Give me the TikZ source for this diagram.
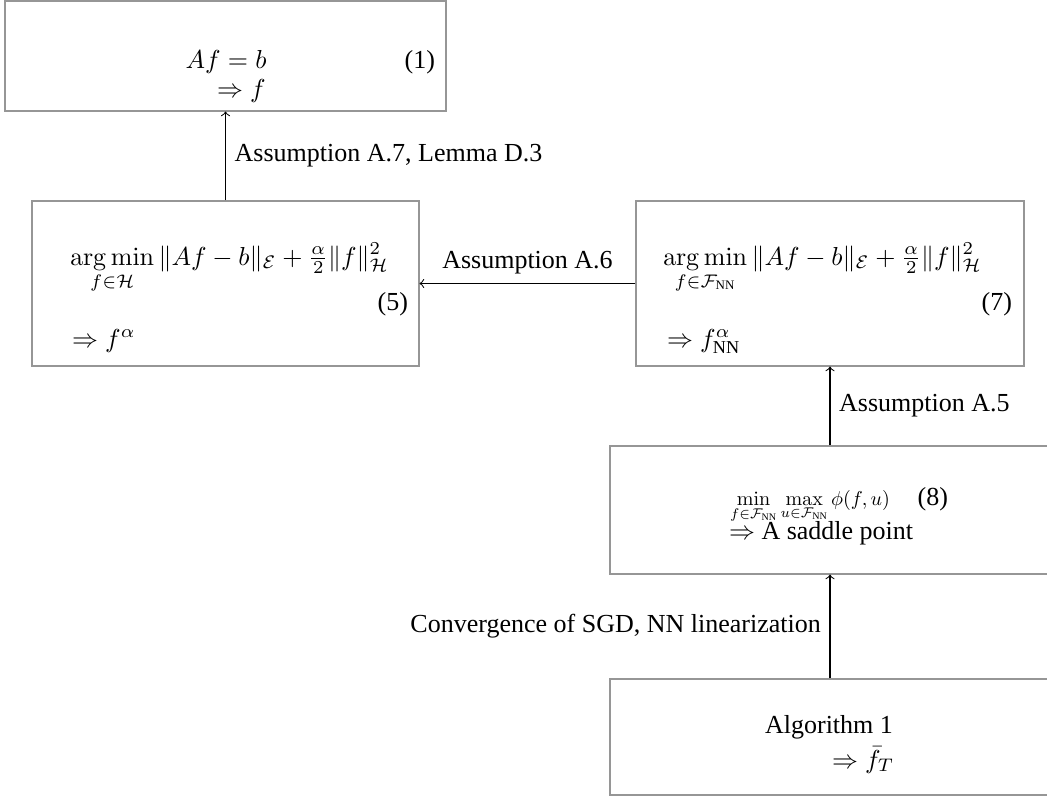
\documentclass[tikz,border=0pt]{standalone}
\usepackage{amsmath}
\usepackage{graphicx}
\usepackage[no-math]{fontspec}
\setmainfont{Liberation Serif}
\newdimen\px
\px=0.3846pt
\tikzset{
  box/.style={draw={rgb,255:red,150;green,150;blue,150}, rectangle, inner sep=0pt, line width=0.4pt},
  txt/.style={inner sep=0pt, outer sep=0pt},
  conn/.style={->, black, line width=0.4pt},
}
\begin{document}
\begin{tikzpicture}[x=0.3846pt, y=-0.3846pt]
\useasboundingbox (0,0) rectangle (1047,797);
% boxes
\node[box, minimum width=441*\px, minimum height=110*\px] (b1) at (225.5,56) {};
\node[box, minimum width=387*\px, minimum height=165*\px] (b5) at (225.5,283.5) {};
\node[box, minimum width=388*\px, minimum height=165*\px] (b7) at (830,283.5) {};
\node[box, minimum width=440*\px, minimum height=128*\px] (b8) at (830,510) {};
\node[box, minimum width=440*\px, minimum height=116*\px] (ba) at (830,737) {};
% box 1 texts
\node[txt, anchor=base] (t1a) at (226,68) {$Af = b$};
\node[txt, anchor=base east] (t1n) at (435,68) {(1)};
\node[txt, anchor=base west] (t1b) at (217,97) {$\Rightarrow f$};
% box 5 texts
\node[txt, anchor=base west] (t5a) at (70,265) {$\displaystyle\operatorname*{arg\,min}_{f\in\mathcal{H}}\|Af-b\|_{\mathcal{E}}+\tfrac{\alpha}{2}\|f\|^2_{\mathcal{H}}$};
\node[txt, anchor=base east] (t5n) at (408,310) {(5)};
\node[txt, anchor=base west] (t5b) at (72,347) {$\Rightarrow f^{\alpha}$};
% box 7 texts
\node[txt, anchor=base west] (t7a) at (663,265) {$\displaystyle\operatorname*{arg\,min}_{f\in\mathcal{F}_{\text{NN}}}\|Af-b\|_{\mathcal{E}}+\tfrac{\alpha}{2}\|f\|^2_{\mathcal{H}}$};
\node[txt, anchor=base east] (t7n) at (1012,310) {(7)};
\node[txt, anchor=base west] (t7b) at (667,347) {$\Rightarrow f^{\alpha}_{\text{NN}}$};
% box 8 texts
\node[txt, anchor=base west] (t8a) at (730,505) {\resizebox{160\px}{!}{$\displaystyle\min_{f\in\mathcal{F}_{\text{NN}}}\max_{u\in\mathcal{F}_{\text{NN}}}\phi(f,u)$}};
\node[txt, anchor=base east] (t8n) at (948,505) {(8)};
\node[txt, anchor=base west] (t8b) at (729,539) {$\Rightarrow$ A saddle point};
% algorithm box texts
\node[txt, anchor=base] (taa) at (829,733) {Algorithm 1};
\node[txt, anchor=base west] (tab) at (832,768) {$\Rightarrow \bar{f}_T$};
% connectors
\draw[conn] (b5) -- (b1) node[midway, right] {Assumption A.7, Lemma D.3};
\draw[conn] (b7) -- (b5) node[midway, above] {Assumption A.6};
\draw[conn] (b8) -- (b7) node[midway, right] {Assumption A.5};
\draw[conn] (ba) -- (b8) node[midway, left] {Convergence of SGD, NN linearization};
\end{tikzpicture}
\end{document}
